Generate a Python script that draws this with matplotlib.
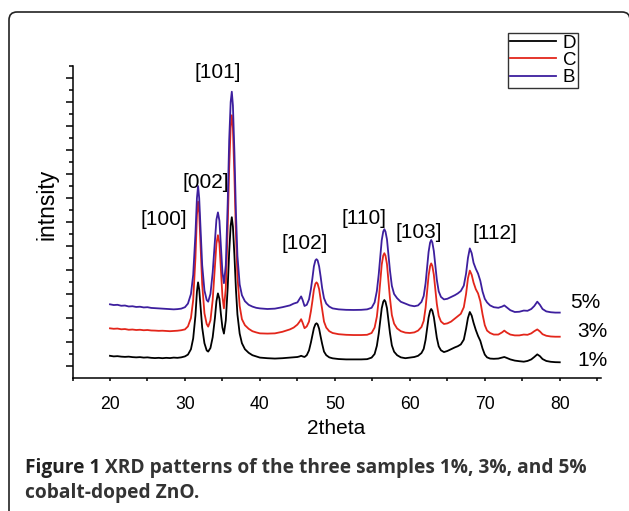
import matplotlib
matplotlib.use('Agg')
import matplotlib.pyplot as plt
from matplotlib.patches import FancyBboxPatch
from matplotlib.ticker import FixedLocator

# 2theta grid (deg) and intensities (arb. units, offset stacked as in the figure)
two_theta = [20.0, 20.5, 21.0, 21.5, 22.0, 22.5, 23.0, 23.5, 24.0, 24.5,
             25.0, 25.5, 26.0, 26.5, 27.0, 27.5, 28.0, 28.5, 29.0, 29.5,
             # (100) (002) (101) cluster
             30.0, 30.4, 30.8, 31.1, 31.4, 31.6, 31.75, 31.9, 32.1, 32.3,
             32.6, 32.9, 33.1, 33.4, 33.7, 34.0, 34.2, 34.4, 34.6, 34.8,
             35.0, 35.2, 35.45, 35.7, 35.9, 36.1, 36.25, 36.4, 36.6, 36.8,
             37.0, 37.3, 37.6, 38.0, 38.5, 39.0, 39.5, 40.0, 41.0, 42.0,
             43.0, 44.0, 44.5,
             # (102)
             45.0, 45.3, 45.5, 45.7, 45.95, 46.25, 46.55, 46.8, 47.0, 47.2,
             47.4, 47.55, 47.7, 47.9, 48.1, 48.3, 48.55, 48.85, 49.25, 49.7,
             50.5, 51.5, 52.5, 53.5, 54.3, 54.9,
             # (110)
             55.3, 55.6, 55.85, 56.05, 56.25, 56.45, 56.6, 56.75, 56.95, 57.15,
             57.35, 57.6, 57.9, 58.3,
             58.8, 59.4, 60.0, 60.6, 61.1,
             # (103)
             61.55, 61.85, 62.1, 62.3, 62.5, 62.7, 62.85, 63.0, 63.2, 63.4,
             63.6, 63.85, 64.15, 64.55,
             # (112) with shoulders
             65.0, 65.5, 66.0, 66.4, 66.8, 67.2, 67.5, 67.75, 68.0, 68.25,
             68.5, 68.8, 69.1, 69.4, 69.7, 70.0, 70.3, 70.7,
             71.2, 71.8, 72.3, 72.6, 72.9, 73.4, 74.0, 74.6, 75.2, 75.7,
             76.2, 76.6, 77.0, 77.35, 77.7, 78.2, 78.8, 79.4, 80.0]

i_1pct = [1.85, 1.80, 1.82, 1.78, 1.76, 1.78, 1.74, 1.72, 1.74, 1.70,
          1.72, 1.68, 1.66, 1.68, 1.65, 1.68, 1.66, 1.70, 1.68, 1.72,
          1.80, 1.95, 2.4, 3.3, 5.2, 7.2, 7.97, 7.4, 5.8, 4.2,
          2.9, 2.3, 2.2, 2.5, 3.4, 5.0, 6.4, 7.05, 6.6, 5.3,
          4.2, 3.7, 4.8, 7.5, 10.5, 12.7, 13.4, 12.6, 10.2, 7.4,
          5.3, 3.7, 2.9, 2.4, 2.1, 1.9, 1.8, 1.7, 1.65, 1.62,
          1.65, 1.70, 1.72,
          1.75, 1.8, 1.85, 1.8, 1.75, 1.9, 2.3, 2.95, 3.55, 4.15,
          4.48, 4.56, 4.47, 4.1, 3.45, 2.85, 2.2, 1.9, 1.72, 1.64,
          1.58, 1.55, 1.55, 1.55, 1.57, 1.7,
          2.0, 2.68, 3.7, 4.79, 5.81, 6.35, 6.5, 6.36, 5.82, 4.81,
          3.74, 2.72, 2.19, 1.9,
          1.72, 1.65, 1.7, 1.75, 1.85,
          2.08, 2.43, 3.18, 4.09, 5.04, 5.59, 5.75, 5.6, 5.08, 4.2,
          3.35, 2.64, 2.31, 2.16,
          2.25, 2.4, 2.55, 2.65, 2.8, 3.2, 4.1, 5.0, 5.5, 5.2,
          4.6, 4.0, 3.5, 3.1, 2.45, 1.95, 1.72, 1.62,
          1.6, 1.62, 1.7, 1.75, 1.68, 1.55, 1.45, 1.4, 1.36, 1.42,
          1.55, 1.75, 1.97, 1.82, 1.58, 1.42, 1.35, 1.32, 1.31]

i_3pct = [4.14, 4.10, 4.12, 4.06, 4.08, 4.02, 4.04, 4.00, 4.02, 3.98,
          4.00, 3.96, 3.95, 3.93, 3.94, 3.92, 3.90, 3.92, 3.94, 3.98,
          4.05, 4.3, 5.0, 6.5, 10.0, 13.6, 14.7, 13.8, 10.8, 7.8,
          5.4, 4.5, 4.28, 4.8, 6.5, 9.3, 11.2, 11.9, 11.2, 9.0,
          6.8, 5.8, 7.5, 12.5, 17.5, 21.0, 21.9, 20.8, 16.8, 12.0,
          8.5, 6.0, 4.9, 4.4, 4.1, 3.9, 3.8, 3.72, 3.70, 3.72,
          3.85, 4.05, 4.2,
          4.45, 4.7, 4.9, 4.6, 4.15, 4.3, 4.7, 5.55, 6.4, 7.35,
          7.85, 7.97, 7.85, 7.4, 6.55, 5.65, 4.7, 4.2, 3.9, 3.75,
          3.65, 3.6, 3.58, 3.58, 3.6, 3.75,
          4.2, 5.11, 6.54, 8.03, 9.45, 10.2, 10.4, 10.2, 9.48, 8.09,
          6.64, 5.25, 4.53, 4.13,
          3.9, 3.78, 3.75, 3.8, 3.95,
          4.25, 4.76, 5.85, 7.16, 8.52, 9.32, 9.55, 9.34, 8.61, 7.37,
          6.17, 5.18, 4.71, 4.5,
          4.55, 4.7, 4.95, 5.15, 5.35, 5.9, 7.0, 8.3, 8.95, 8.6,
          7.95, 7.4, 7.05, 6.4, 5.3, 4.4, 3.95, 3.75,
          3.62, 3.62, 3.8, 3.95, 3.8, 3.62, 3.55, 3.55, 3.62, 3.6,
          3.72, 3.9, 4.05, 3.88, 3.65, 3.52, 3.46, 3.44, 3.44]

i_5pct = [6.14, 6.08, 6.10, 6.02, 6.04, 5.96, 5.98, 5.92, 5.94, 5.88,
          5.90, 5.84, 5.82, 5.80, 5.78, 5.76, 5.74, 5.72, 5.74, 5.78,
          5.9, 6.2, 7.0, 8.6, 12.0, 15.0, 16.0, 15.0, 12.2, 9.4,
          7.3, 6.5, 6.36, 7.0, 8.8, 11.5, 13.2, 13.8, 13.1, 11.0,
          8.8, 7.9, 9.4, 14.5, 19.8, 23.0, 23.86, 22.7, 18.8, 13.8,
          10.2, 7.8, 6.9, 6.4, 6.1, 5.95, 5.85, 5.8, 5.75, 5.78,
          5.9, 6.05, 6.2,
          6.3, 6.6, 6.8, 6.5, 6.0, 6.1, 6.55, 7.4, 8.3, 9.3,
          9.8, 9.9, 9.8, 9.3, 8.45, 7.5, 6.65, 6.2, 5.95, 5.8,
          5.72, 5.68, 5.67, 5.68, 5.72, 5.85,
          6.3, 7.25, 8.64, 10.1, 11.48, 12.2, 12.4, 12.2, 11.55, 10.28,
          8.95, 7.68, 7.0, 6.65,
          6.35, 6.2, 6.05, 5.98, 6.05,
          6.34, 6.84, 7.9, 9.17, 10.5, 11.28, 11.5, 11.3, 10.58, 9.36,
          8.19, 7.22, 6.76, 6.55,
          6.6, 6.75, 6.9, 7.05, 7.25, 7.7, 8.7, 10.0, 10.8, 10.4,
          9.6, 9.1, 8.7, 8.1, 7.2, 6.6, 6.3, 6.05,
          5.9, 5.85, 5.95, 6.05, 5.9, 5.65, 5.5, 5.52, 5.62, 5.6,
          5.75, 6.0, 6.36, 6.1, 5.75, 5.55, 5.48, 5.45, 5.45]

legend_names = ['D', 'C', 'B']
sample_names = ['1%', '3%', '5%']
peak_names = ['[100]', '[002]', '[101]', '[102]', '[110]', '[103]', '[112]']

plt.rcParams['font.family'] = ['Liberation Sans', 'DejaVu Sans']

fig = plt.figure(figsize=(6.29, 5.11), dpi=100)
ax = fig.add_axes([72.5 / 629, 1 - 378 / 511, 528.5 / 629, 312 / 511])

colors = ['#000000', '#e3261b', '#3d1f9e']
for y, c, name in zip([i_1pct, i_3pct, i_5pct], colors, legend_names):
    ax.plot(two_theta, y, color=c, lw=1.3, label=name)

ax.set_xlim(15, 85.5)
ax.set_ylim(0, 26)
for s in ['top', 'right']:
    ax.spines[s].set_visible(False)
for s in ['left', 'bottom']:
    ax.spines[s].set_linewidth(1.1)

ax.xaxis.set_major_locator(FixedLocator(list(range(20, 81, 10))))
ax.xaxis.set_minor_locator(FixedLocator(list(range(15, 86, 10))))
ax.yaxis.set_major_locator(FixedLocator(list(range(1, 26, 2))))
ax.yaxis.set_minor_locator(FixedLocator(list(range(2, 27, 2))))
ax.tick_params(axis='x', which='both', direction='out', length=2.5, width=1.1,
               labelsize=12.7, pad=10.5)
ax.tick_params(axis='y', which='major', direction='out', length=5.2, width=1.1,
               labelleft=False)
ax.tick_params(axis='y', which='minor', direction='out', length=3.0, width=1.1)

# peak labels
label_pos = [(27.24, 13.25), (32.71, 16.29), (34.33, 25.5), (45.96, 11.25),
             (53.84, 13.33), (61.2, 12.13), (71.29, 12.08)]
for txt, (px, py) in zip(peak_names, label_pos):
    ax.text(px, py, txt, ha='center', va='center', fontsize=15, clip_on=False)

# sample labels at the right end of each trace
side_pos = [(82.3, 1.5), (82.3, 3.9), (81.4, 6.25)]
for txt, (px, py) in zip(sample_names, side_pos):
    ax.text(px, py, txt, ha='left', va='center', fontsize=15, clip_on=False)

leg = ax.legend(loc='upper right', bbox_to_anchor=(0.9565, 1.106),
                borderaxespad=0, frameon=True, fancybox=False,
                prop={'size': 13.5}, handlelength=2.45, handletextpad=0.37,
                labelspacing=0.0, borderpad=0.1)
leg.get_frame().set_edgecolor('black')
leg.get_frame().set_linewidth(1.0)

fig.text(46.5 / 629, 1 - 204 / 511, 'intnsity', rotation=90, ha='center',
         va='center', fontsize=16.5)
fig.text(336 / 629, 1 - 428 / 511, '2theta', ha='center', va='center',
         fontsize=15)

# caption
cap_color = '#333333'
t1 = fig.text(25 / 629, 1 - 473 / 511, 'Figure 1', fontsize=13.8,
              family='Open Sans', weight='bold', color='#222222')
ax.annotate(' XRD patterns of the three samples 1%, 3%, and 5%',
            xy=(1, 0), xycoords=t1, va='bottom', fontsize=13.8,
            family='Open Sans', weight='bold', color=cap_color,
            annotation_clip=False)
fig.text(25 / 629, 1 - 498 / 511, 'cobalt-doped ZnO.', fontsize=13.8,
         family='Open Sans', weight='bold', color=cap_color)

# rounded frame around the figure panel
frame = FancyBboxPatch((0.09, -0.3), 6.21, 5.29,
                       boxstyle='round,pad=0,rounding_size=0.08',
                       transform=fig.dpi_scale_trans, fill=False,
                       edgecolor='#222222', linewidth=1.2)
fig.patches.append(frame)

fig.savefig('out.png', dpi=100)
